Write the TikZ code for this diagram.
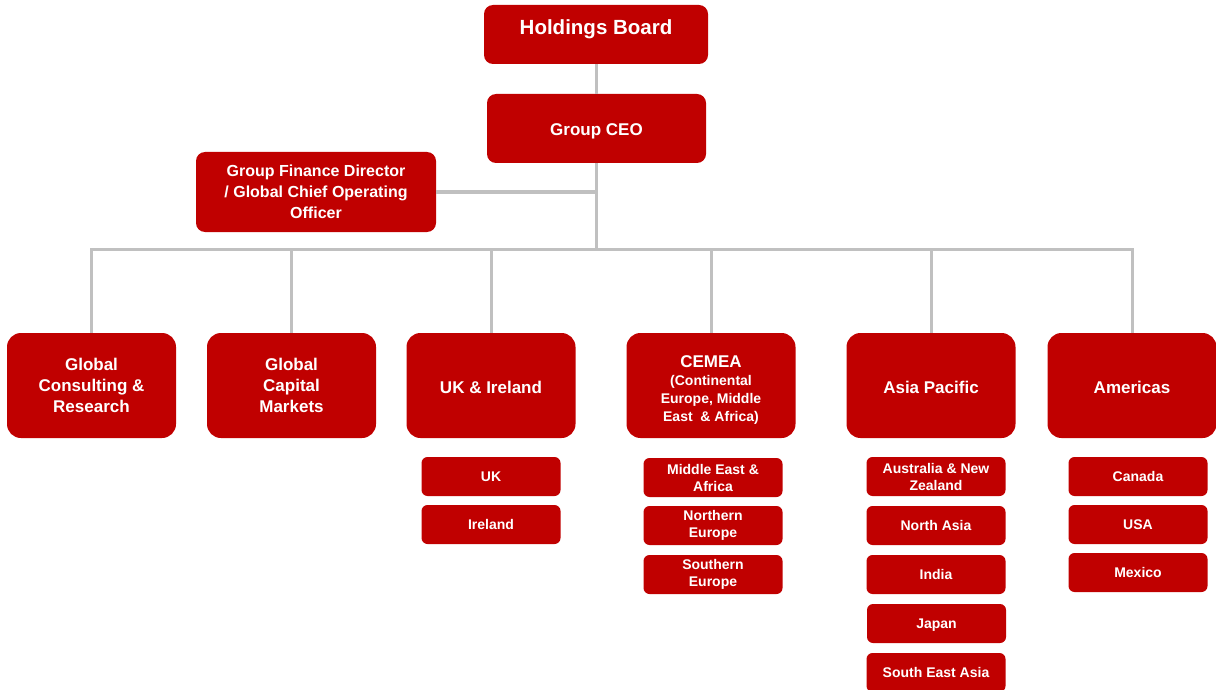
\documentclass[tikz,border=0pt]{standalone}
\usepackage{fontspec}
\setmainfont{Liberation Sans}
\definecolor{boxred}{HTML}{C00000}
\definecolor{linegray}{HTML}{C0C0C0}
\tikzset{
 box/.style={fill=boxred, text=white, align=center, inner sep=0pt},
 topbox/.style={box, rounded corners=9pt},
 divbox/.style={box, rounded corners=14pt, minimum width=169pt, minimum height=105pt, font=\fontsize{17}{21}\selectfont\bfseries},
 subbox/.style={box, rounded corners=6pt, minimum width=139pt, minimum height=39pt, font=\fontsize{14}{17}\selectfont\bfseries},
 conn/.style={draw=linegray, line width=3pt},
}
\newcommand{\lowerby}[2]{\raisebox{-#1}[\height][\depth]{#2}}
\begin{document}
\begin{tikzpicture}[x=1pt,y=-1pt]
\useasboundingbox (0,0) rectangle (1216,690);
% top level
\node[topbox, minimum width=224pt, minimum height=59pt, font=\fontsize{20.5}{24}\selectfont\bfseries] (hb) at (596,34.5) {\raisebox{15pt}{Holdings Board}};
\node[topbox, minimum width=219pt, minimum height=69pt, font=\fontsize{17}{21}\selectfont\bfseries] (ceo) at (596.5,128.5) {\lowerby{3pt}{Group CEO}};
\node[topbox, minimum width=240pt, minimum height=80pt, font=\fontsize{16}{21}\selectfont\bfseries] (gfd) at (316,192) {Group Finance Director\\/ Global Chief Operating\\Officer};
\coordinate (bus) at (596.5,249);
% divisions
\node[divbox] (gcr) at (91.5,385.5) {Global\\Consulting \&\\Research};
\node[divbox] (gcm) at (291.5,385.5) {Global\\Capital\\Markets};
\node[divbox] (uki) at (491,385.5) {\lowerby{2pt}{UK \& Ireland}};
\node[divbox] (cemea) at (711,385.5) {\rule{0pt}{20.5pt}CEMEA\\[-3pt]{\fontsize{14}{17}\selectfont (Continental}\\[-3pt]{\fontsize{14}{17}\selectfont Europe, Middle}\\[-3pt]{\fontsize{14}{17}\selectfont East \ \& Africa)}};
\node[divbox] (ap) at (931,385.5) {\lowerby{2pt}{Asia Pacific}};
\node[divbox] (am) at (1132,385.5) {\lowerby{2pt}{Americas}};
% sub units
\node[subbox] (uk) at (491,476.5) {UK};
\node[subbox] (ie) at (491,524.5) {Ireland};
\node[subbox] (mea) at (713,477.5) {Middle East \&\\Africa};
\node[subbox] (ne) at (713,525.5) {Northern\\Europe};
\node[subbox] (se) at (713,574.5) {Southern\\Europe};
\node[subbox] (anz) at (936,476.5) {Australia \& New\\Zealand};
\node[subbox] (na) at (936,525.5) {North Asia};
\node[subbox] (in) at (936,574.5) {India};
\node[subbox] (jp) at (936.5,623.5) {\lowerby{2pt}{Japan}};
\node[subbox] (sea) at (936,672.5) {South East Asia};
\node[subbox] (ca) at (1138,476.5) {Canada};
\node[subbox] (us) at (1138,524.5) {USA};
\node[subbox] (mx) at (1138,572.5) {Mexico};
% connectors
\draw[conn] (hb.south -| ceo.north) -- (ceo.north);
\draw[conn] (ceo.south) -- (bus);
\draw[conn] (gfd.east) -- (ceo.south |- gfd.east);
\draw[conn] (gcr.north) |- (am.north |- bus) -- (am.north);
\foreach \d in {gcm,uki,cemea,ap}{
  \draw[conn] (\d.north) -- (\d.north |- bus);
}
\end{tikzpicture}
\end{document}
